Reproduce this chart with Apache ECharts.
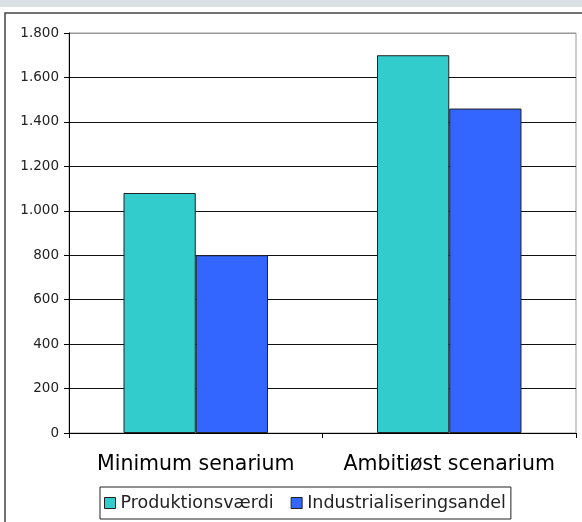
<!DOCTYPE html>
<html>
<head>
<meta charset="utf-8">
<script src="https://cdn.jsdelivr.net/npm/echarts@6/dist/echarts.min.js"></script>
<style>
html,body{margin:0;padding:0;background:#fff;}
#c{width:582px;height:522px;}
</style>
</head>
<body>
<div id="c"></div>
<script>
const categories = ['Minimum senarium', 'Ambitiøst scenarium'];
const seriesNames = ['Produktionsværdi', 'Industrialiseringsandel'];
const produktionsvaerdi = [1080, 1700];
const industrialiseringsandel = [800, 1460];
const yMin = 0, yMax = 1800, yStep = 200;

function fmt(v) {
  if (v >= 1000) {
    return Math.floor(v / 1000) + '.' + String(v % 1000).padStart(3, '0');
  }
  return String(v);
}

const splitColors = [];
for (let v = yMin; v <= yMax; v += yStep) splitColors.push(v === yMax ? '#999' : '#111');

const chart = echarts.init(document.getElementById('c'), null, {renderer: 'canvas'});
chart.setOption({
  animation: false,
  backgroundColor: '#fff',
  textStyle: {fontFamily: 'DejaVu Sans'},
  graphic: [
    {type: 'rect', shape: {x: 0, y: 0, width: 582, height: 7}, style: {fill: '#dae1e4'}, silent: true},
    {type: 'rect', shape: {x: 5, y: 13, width: 640, height: 640}, style: {fill: 'none', stroke: '#444', lineWidth: 1.5}, silent: true}
  ],
  grid: {
    left: 69, right: 6, top: 33, bottom: 89,
    show: true, borderColor: '#999', borderWidth: 1, backgroundColor: '#fff'
  },
  legend: {
    left: 100, top: 487,
    padding: [7, 5, 7, 4],
    itemWidth: 11, itemHeight: 11, itemGap: 17, itemTextGap: 6,
    icon: 'rect',
    borderColor: '#222', borderWidth: 1,
    itemStyle: {borderColor: '#222', borderWidth: 1},
    textStyle: {fontFamily: 'DejaVu Sans', fontSize: 17.5, color: '#222'},
    data: seriesNames
  },
  xAxis: {
    type: 'category',
    data: categories,
    axisLine: {lineStyle: {color: '#000', width: 1}},
    axisTick: {show: true, length: 5, lineStyle: {color: '#000'}},
    axisLabel: {interval: 0, fontFamily: 'DejaVu Sans', fontSize: 20.5, fontWeight: 'normal', color: '#000', margin: 21}
  },
  yAxis: {
    type: 'value',
    min: yMin, max: yMax, interval: yStep,
    axisLine: {show: true, lineStyle: {color: '#000', width: 1}},
    axisTick: {show: true, length: 5, lineStyle: {color: '#000'}},
    axisLabel: {fontFamily: 'DejaVu Sans', fontSize: 13.5, color: '#222', margin: 10, formatter: fmt},
    splitLine: {show: true, lineStyle: {color: splitColors, width: 1}}
  },
  series: [
    {
      name: seriesNames[0], type: 'bar', data: produktionsvaerdi,
      barGap: '0%', barCategoryGap: '43%',
      itemStyle: {color: '#33cccc', borderColor: '#222', borderWidth: 1}
    },
    {
      name: seriesNames[1], type: 'bar', data: industrialiseringsandel,
      barGap: '0%', barCategoryGap: '43%',
      itemStyle: {color: '#3366ff', borderColor: '#222', borderWidth: 1}
    }
  ]
});
</script>
</body>
</html>
